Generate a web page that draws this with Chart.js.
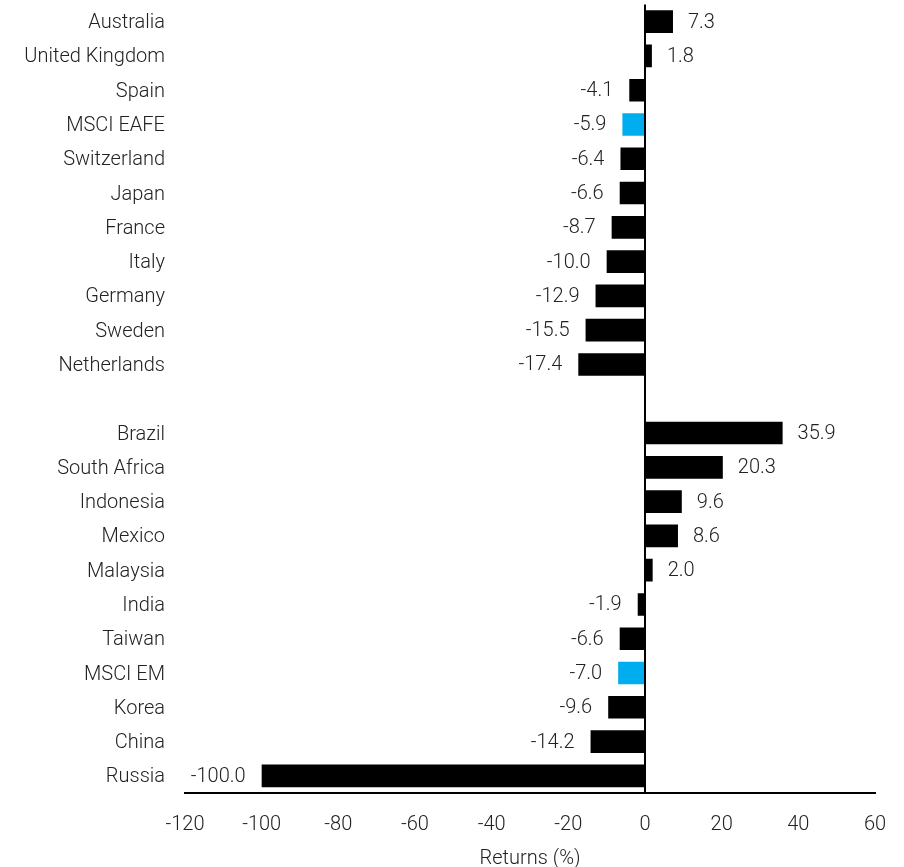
<!DOCTYPE html>
<html>
<head>
<meta charset="utf-8">
<script src="https://cdn.jsdelivr.net/npm/chart.js@4.4.1/dist/chart.umd.min.js"></script>
<style>
  html, body { margin: 0; padding: 0; background: #fff; }
  #wrap { width: 904px; height: 867px; }
</style>
</head>
<body>
<div id="wrap"><canvas id="c"></canvas></div>
<script>
// Country returns, developed markets then emerging markets (blank row between groups)
const countries = [
  'Australia', 'United Kingdom', 'Spain', 'MSCI EAFE', 'Switzerland', 'Japan',
  'France', 'Italy', 'Germany', 'Sweden', 'Netherlands',
  '',
  'Brazil', 'South Africa', 'Indonesia', 'Mexico', 'Malaysia', 'India',
  'Taiwan', 'MSCI EM', 'Korea', 'China', 'Russia'
];
const returns = [
  7.3, 1.8, -4.1, -5.9, -6.4, -6.6, -8.7, -10.0, -12.9, -15.5, -17.4,
  null,
  35.9, 20.3, 9.6, 8.6, 2.0, -1.9, -6.6, -7.0, -9.6, -14.2, -100.0
];
const indexNames = ['MSCI EAFE', 'MSCI EM'];
const xTicks = [-120, -100, -80, -60, -40, -20, 0, 20, 40, 60];

const FONT = "Roboto, 'Helvetica Neue', Arial, sans-serif";
const TEXT = '#222222';

// Benchmark indices in blue, countries in black
const barColors = countries.map(c => indexNames.includes(c) ? '#00AEEF' : '#000000');

// Writes each bar's value just beyond its end
const valueLabels = {
  id: 'valueLabels',
  afterDatasetsDraw(chart) {
    const ctx = chart.ctx;
    const meta = chart.getDatasetMeta(0);
    ctx.save();
    ctx.font = '300 20px ' + FONT;
    ctx.fillStyle = TEXT;
    ctx.textBaseline = 'middle';
    meta.data.forEach((bar, i) => {
      const v = returns[i];
      if (v === null) return;
      const txt = v.toFixed(1);
      if (v >= 0) {
        ctx.textAlign = 'left';
        ctx.fillText(txt, bar.x + 15, bar.y + 1);
      } else {
        ctx.textAlign = 'right';
        ctx.fillText(txt, bar.x - 16, bar.y + 1);
      }
    });
    ctx.restore();
  }
};

new Chart(document.getElementById('c'), {
  type: 'bar',
  data: {
    labels: countries,
    datasets: [{
      data: returns,
      backgroundColor: barColors,
      borderWidth: 0,
      barPercentage: 0.66,
      categoryPercentage: 1.0
    }]
  },
  options: {
    indexAxis: 'y',
    responsive: true,
    maintainAspectRatio: false,
    animation: false,
    layout: { padding: { top: 4.5, right: 0, bottom: 0, left: 0 } },
    plugins: {
      legend: { display: false },
      tooltip: { enabled: false }
    },
    scales: {
      x: {
        min: -120,
        max: 60,
        afterBuildTicks(scale) { scale.ticks = xTicks.map(v => ({ value: v })); },
        afterFit(scale) {
          scale.height = 74;
          scale.paddingRight = 29;
        },
        grid: {
          drawTicks: false,
          lineWidth: 2,
          color: ctx => (ctx.tick && ctx.tick.value === 0 ? '#000000' : 'rgba(0,0,0,0)')
        },
        border: { display: true, color: '#000000', width: 2 },
        ticks: {
          padding: 20,
          color: TEXT,
          font: { family: FONT, size: 20, weight: '300' }
        },
        title: {
          display: true,
          text: 'Returns (%)',
          color: TEXT,
          padding: { top: 0, bottom: -4 },
          font: { family: FONT, size: 20, weight: '300' }
        }
      },
      y: {
        afterFit(scale) {
          scale.width = 185;
          scale.paddingTop = 0;
          scale.paddingBottom = 0;
        },
        grid: { display: false, drawTicks: false },
        border: { display: false },
        ticks: {
          padding: 20,
          labelOffset: 1.5,
          autoSkip: false,
          color: TEXT,
          font: { family: FONT, size: 20, weight: '300' }
        }
      }
    }
  },
  plugins: [valueLabels]
});
</script>
</body>
</html>
